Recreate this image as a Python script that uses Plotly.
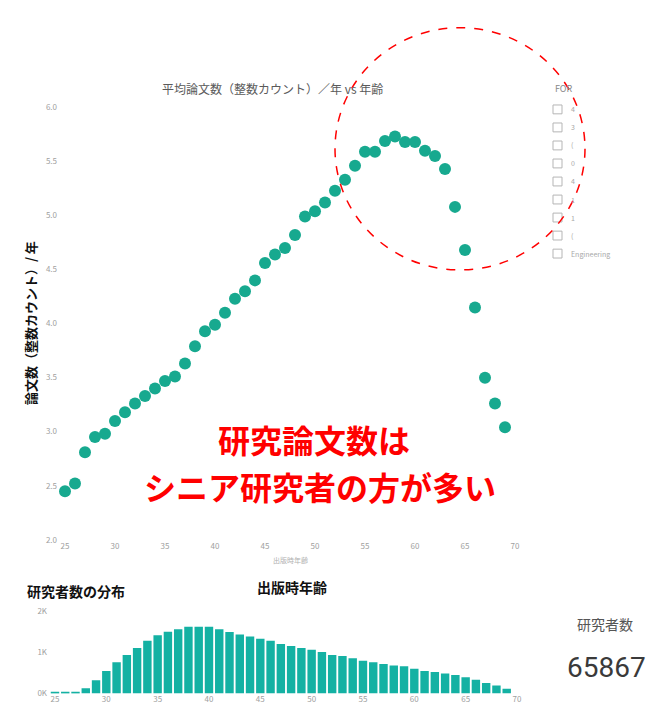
import plotly.graph_objects as go

W, H = 653, 725

# Age at publication (years)
ages = list(range(25, 70))

# Average papers per year (whole counting) by age
avg_papers = [2.45, 2.52, 2.81, 2.95, 2.98, 3.10, 3.18, 3.26, 3.33, 3.40,
              3.47, 3.51, 3.63, 3.79, 3.93, 3.99, 4.10, 4.23, 4.30, 4.40,
              4.56, 4.64, 4.70, 4.82, 4.99, 5.04, 5.12, 5.23, 5.33, 5.46,
              5.59, 5.59, 5.69, 5.73, 5.68, 5.68, 5.60, 5.55, 5.43, 5.08,
              4.68, 4.15, 3.50, 3.26, 3.04]

# Number of researchers by age
researchers = [25, 25, 40, 125, 320, 550, 760, 940, 1110, 1290,
               1420, 1510, 1570, 1630, 1630, 1630, 1570, 1500, 1440, 1395,
               1340, 1290, 1210, 1160, 1110, 1070, 1015, 940, 915, 860,
               800, 760, 720, 680, 665, 605, 550, 525, 490, 450,
               395, 335, 255, 195, 115]

main_yticks = [2.0, 2.5, 3.0, 3.5, 4.0, 4.5, 5.0, 5.5, 6.0]
age_ticks = [25, 30, 35, 40, 45, 50, 55, 60, 65, 70]
bar_yticks = [0, 1000, 2000]
bar_yticklabels = ["0K", "1K", "2K"]

slicer_title = "FOR"
slicer_items = ["4", "3", "(", "0", "4", "1", "1", "(", "Engineering"]

total_researchers = 65867


def px_x(p):
    return p / W


def px_y(p):
    return 1 - p / H


fig = go.Figure()

fig.add_trace(go.Scatter(
    x=ages, y=avg_papers, mode="markers",
    marker=dict(size=12, color="#17A98F"),
    xaxis="x", yaxis="y", showlegend=False, hoverinfo="x+y",
))

fig.add_trace(go.Bar(
    x=ages, y=researchers,
    marker=dict(color="#14B1A3", line=dict(width=0)),
    xaxis="x2", yaxis="y2", showlegend=False,
))

tick_font = dict(family="Noto Sans CJK JP", size=8, color="#a0a0a0")

fig.update_layout(
    width=W, height=H,
    margin=dict(l=0, r=0, t=0, b=0),
    paper_bgcolor="white", plot_bgcolor="white",
    bargap=0.18,
    font=dict(family="Noto Sans CJK JP"),
    xaxis=dict(domain=[px_x(58), px_x(525)], range=[24.3, 71],
               tickvals=age_ticks, tickfont=tick_font,
               showgrid=False, zeroline=False, showline=False,
               anchor="y"),
    yaxis=dict(domain=[px_y(542), px_y(103)], range=[2.0, 6.0],
               tickvals=main_yticks, tickformat=".1f", tickfont=tick_font,
               showgrid=False, zeroline=False, showline=False,
               anchor="x"),
    xaxis2=dict(domain=[px_x(48), px_x(522)], range=[24.32, 70.49],
                tickvals=age_ticks, tickfont=tick_font,
                showgrid=False, zeroline=False, showline=False,
                anchor="y2"),
    yaxis2=dict(domain=[px_y(698), px_y(615)], range=[0, 2000],
                tickvals=bar_yticks, ticktext=bar_yticklabels,
                tickfont=tick_font,
                showgrid=False, zeroline=False, showline=False,
                anchor="x2"),
)

ann = []

def text(x, y, s, size, color="#222", bold=False, family="Noto Sans CJK JP",
         angle=0, xanchor="center"):
    ann.append(dict(
        x=px_x(x), y=px_y(y), xref="paper", yref="paper",
        text=f"<b>{s}</b>" if bold else s, showarrow=False,
        font=dict(size=size, color=color, family=family),
        xanchor=xanchor, yanchor="middle", textangle=angle,
    ))

# chart titles and axis titles
text(272, 84, "平均論文数（整数カウント）／年 vs 年齢", 12, color="#5a5a5a")
text(290, 563, "出版時年齢", 7, color="#b0b0b0")
text(30, 322, "論文数（整数カウント）/ 年", 13, color="#111", bold=True, angle=-90)
text(292, 590, "出版時年齢", 14, color="#111", bold=True)
text(76, 594, "研究者数の分布", 14, color="#111", bold=True)

# callout
text(314, 440, "研究論文数は", 32, color="#FF0000", bold=True)
text(320, 487, "シニア研究者の方が多い", 32, color="#FF0000", bold=True)

# KPI card
text(605, 628, "研究者数", 14, color="#555")
text(606, 672, f"{total_researchers}", 28, color="#3a3a3a", family="Roboto")

# slicer
text(553, 84, slicer_title, 9, color="#888", xanchor="left")
shapes = []
for i, item in enumerate(slicer_items):
    cy = 105 + i * 18.3
    shapes.append(dict(type="rect", xref="paper", yref="paper",
                       x0=px_x(553), x1=px_x(562), y0=px_y(cy + 4.5), y1=px_y(cy - 4.5),
                       line=dict(color="#b5b5b5", width=1), fillcolor="white"))
    text(569, cy, item, 7, color="#a8a8a8", xanchor="left")

# dashed highlight circle
shapes.append(dict(type="circle", xref="paper", yref="paper",
                   x0=px_x(335), x1=px_x(585), y0=px_y(268), y1=px_y(22),
                   line=dict(color="#FF0000", width=1.5, dash="dash")))

fig.update_layout(annotations=ann, shapes=shapes)

fig.write_html("out.html")
